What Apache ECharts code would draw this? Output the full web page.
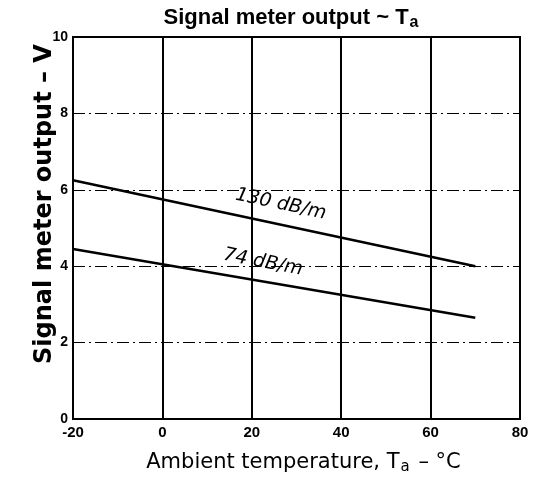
<!DOCTYPE html>
<html>
<head>
<meta charset="utf-8">
<script src="https://cdn.jsdelivr.net/npm/echarts@6/dist/echarts.min.js"></script>
<style>
  html, body { margin: 0; padding: 0; background: #fff; }
  #chart { width: 544px; height: 480px; }
</style>
</head>
<body>
<div id="chart"></div>
<script>
// ambient temperature (°C) at the ends of each line
var temps = [-20, 70];
// signal meter output (V)
var out130 = [6.25, 4.0];
var out74 = [4.45, 2.65];
// line labels: [name, temp, volts]
var labels130 = ["130 dB/m", 26.5, 5.62];
var labels74 = ["74 dB/m", 22.5, 4.1];

var xTicks = [-20, 0, 20, 40, 60, 80];
var yTicks = [0, 2, 4, 6, 8, 10];

var font = "Liberation Sans";
var wide = "DejaVu Sans";

function pairs(xs, ys) {
  return xs.map(function (x, i) { return [x, ys[i]]; });
}

function lineSeries(data, lab, angle) {
  return {
    type: "line",
    data: data,
    symbol: "none",
    lineStyle: { color: "#000", width: 2.5 },
    animation: false,
    markPoint: {
      symbol: "circle",
      symbolSize: 0,
      data: [{ coord: [lab[1], lab[2]] }],
      label: {
        show: true,
        position: "inside",
        formatter: lab[0],
        rotate: angle,
        color: "#000",
        fontFamily: wide,
        fontStyle: "italic",
        fontSize: 19
      }
    }
  };
}

var chart = echarts.init(document.getElementById("chart"));
chart.setOption({
  backgroundColor: "#fff",
  title: {
    text: "{m|Signal meter output ~ T}{s|a}",
    left: 286,
    textAlign: "center",
    top: 0,
    textStyle: {
      rich: {
        m: { fontFamily: font, fontWeight: "bold", fontSize: 22, color: "#000" },
        s: { fontFamily: font, fontWeight: "bold", fontSize: 16, color: "#000", padding: [10, 0, 0, 1] }
      }
    }
  },
  grid: {
    left: 73, right: 24, top: 37, bottom: 59,
    show: true,
    borderColor: "#000",
    borderWidth: 2
  },
  xAxis: {
    type: "value",
    min: xTicks[0],
    max: xTicks[xTicks.length - 1],
    interval: 20,
    name: "{m|Ambient temperature, T}{s|a}{m| – °C}",
    nameLocation: "middle",
    nameGap: 31,
    nameTextStyle: {
      padding: [0, 0, 0, 14],
      rich: {
        m: { fontFamily: wide, fontSize: 21, color: "#000" },
        s: { fontFamily: wide, fontSize: 15, color: "#000", padding: [10, 2, 0, 1] }
      }
    },
    axisLine: { show: false },
    axisTick: { show: false },
    axisLabel: {
      color: "#000",
      fontFamily: font,
      fontWeight: "bold",
      fontSize: 15,
      margin: 6
    },
    splitLine: { show: true, lineStyle: { color: "#000", width: 2 } }
  },
  yAxis: {
    type: "value",
    min: yTicks[0],
    max: yTicks[yTicks.length - 1],
    interval: 2,
    name: "Signal meter output – V",
    nameLocation: "middle",
    nameGap: 16,
    nameMoveOverlap: false,
    nameTextStyle: {
      fontFamily: wide,
      fontWeight: "bold",
      fontSize: 24,
      color: "#000",
      padding: [0, 0, 0, 48]
    },
    axisLine: { show: false },
    axisTick: { show: false },
    axisLabel: {
      color: "#000",
      fontFamily: font,
      fontWeight: "bold",
      fontSize: 14,
      margin: 5
    },
    splitLine: {
      show: true,
      lineStyle: { color: "#000", width: 1.2, type: [12, 4, 2, 4] }
    }
  },
  series: [
    lineSeries(pairs(temps, out130), labels130, -12),
    lineSeries(pairs(temps, out74), labels74, -11)
  ]
});
</script>
</body>
</html>
